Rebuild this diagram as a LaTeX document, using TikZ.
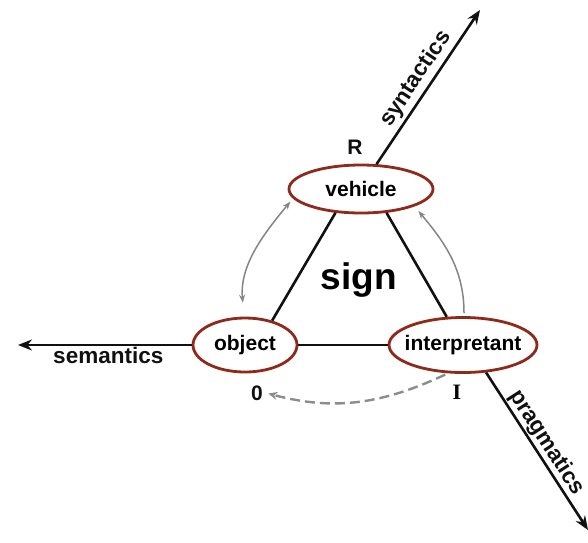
\documentclass[tikz,border=0pt]{standalone}
\usepackage{fontspec}
\setmainfont{Liberation Sans}
\newfontfamily\serifbold{Liberation Serif}
\usetikzlibrary{arrows.meta, shapes.geometric}
\definecolor{ringline}{HTML}{8E2A1C}
\definecolor{axisline}{HTML}{111111}
\definecolor{hintline}{HTML}{858585}
\definecolor{dashline}{HTML}{8C8C8C}
\tikzset{
  role/.style    = {ellipse, draw=ringline, line width=2.8pt, fill=white,
                    font=\fontsize{21}{23}\selectfont\bfseries, inner sep=0pt},
  axis/.style    = {-{Stealth[length=14pt, width=11pt]}, line width=2.6pt, draw=axisline},
  edge/.style    = {line width=2.6pt, draw=axisline},
  hint/.style    = {line width=1.5pt, draw=hintline},
  hinttip/.style = {-{Stealth[length=8pt, width=6pt]}},
  lbl/.style     = {font=\fontsize{22.5}{24}\selectfont\bfseries, text=axisline, inner sep=1pt},
  letter/.style  = {font=\fontsize{21}{23}\selectfont\bfseries, text=axisline},
}
\begin{document}
\begin{tikzpicture}[x=1pt, y=-1pt]
\useasboundingbox (0,0) rectangle (588,542);
% the three corners
\node[role, minimum width=144pt, minimum height=48pt] (vehicle) at (361,189) {vehicle};
\node[role, minimum width=104pt, minimum height=54pt] (object) at (245,345) {object};
\node[role, inner xsep=-9pt, minimum width=148pt, minimum height=55pt] (interpretant) at (463,345) {interpretant};
\node[font=\fontsize{37}{39}\selectfont\bfseries] (sign) at (359,280) {sign};

% ends of the axes
\coordinate (syntip) at (480,10);
\coordinate (semtip) at (18,345);
\coordinate (pratip) at (588,530);

% triangle
\draw[edge] (vehicle.-137) -- (object.42);
\draw[edge] (vehicle.-43) -- (interpretant.120);
\draw[edge] (object.east) -- (interpretant.west);

% axes
\draw[axis] (vehicle.58) -- (syntip)
  node[lbl, sloped, above=2pt, pos=0.5] (synlbl) {syntactics};
\draw[axis] (object.west) -- (semtip)
  node[lbl, below=0pt, pos=0.48] (semlbl) {semantics};
\draw[axis] (interpretant.-50) -- (pratip)
  node[lbl, sloped, above=0pt, pos=0.49] (pralbl) {pragmatics};

% corner letters
\node[letter] (rlbl) at (355,147) {R};
\node[letter] (zero) at (257,393) {0};
\node[font=\fontsize{22}{24}\selectfont\serifbold\bfseries] (ilbl) at (457,392) {I};

% grey arrows
\draw[hint, {Stealth[length=8pt, width=6pt]}-{Stealth[length=8pt, width=6pt]},
  shorten <=14pt, shorten >=4pt] (object.92) to[out=95, in=-130] (vehicle.-172);
\draw[hint, hinttip, shorten <=3pt, shorten >=6pt]
  (interpretant.88) to[out=90, in=-50] (vehicle.-18);
\draw[line width=2.4pt, draw=dashline, dash pattern=on 10pt off 5pt,
  -{Stealth[length=9pt, width=8pt]}, shorten <=3pt, shorten >=2pt]
  (interpretant.-118) to[out=-155, in=-15] (zero.east);
\end{tikzpicture}
\end{document}
